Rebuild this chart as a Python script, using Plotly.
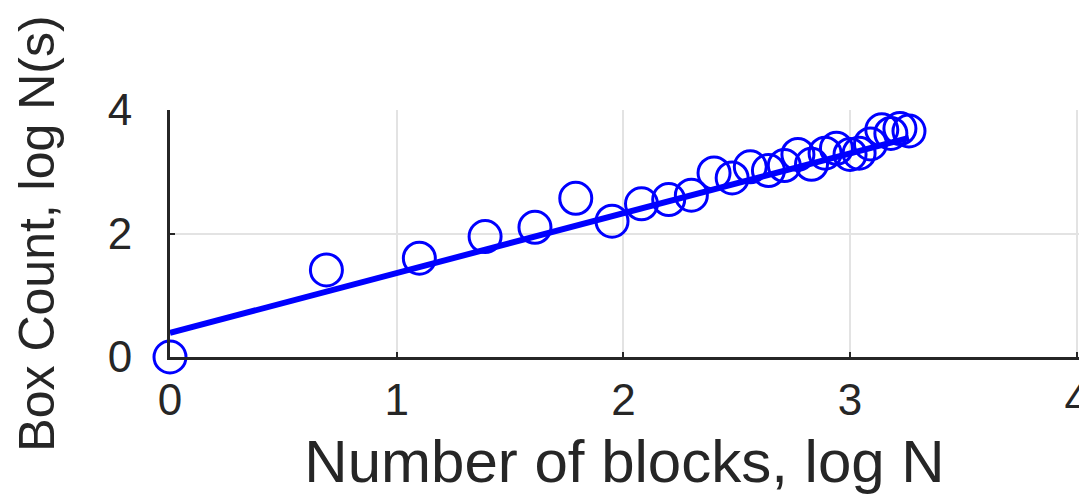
import plotly.graph_objects as go

# Data (x = log N, y = log N(s))
log_n = [0.00, 0.69, 1.10, 1.39, 1.61, 1.79, 1.95, 2.08, 2.20, 2.30,
         2.40, 2.48, 2.56, 2.64, 2.71, 2.77, 2.83, 2.89, 2.94, 3.00,
         3.04, 3.09, 3.14, 3.18, 3.22, 3.26]
log_ns = [0.00, 1.41, 1.60, 1.95, 2.10, 2.57, 2.20, 2.48, 2.55, 2.62,
          2.98, 2.90, 3.08, 3.02, 3.10, 3.28, 3.12, 3.30, 3.38, 3.28,
          3.30, 3.45, 3.68, 3.62, 3.70, 3.66]

fit_x = [0.00, 3.26]
fit_y = [0.39, 3.55]

x_ticks = [0, 1, 2, 3, 4]
y_ticks = [0, 2, 4]

BLUE = "#0000ff"
DARK = "#262626"
FONT = "Liberation Sans, Arial, Helvetica, sans-serif"

fig = go.Figure()
fig.add_trace(go.Scatter(
    x=log_n, y=log_ns, mode="markers",
    marker=dict(symbol="circle-open", size=32, color=BLUE,
                line=dict(width=3, color=BLUE)),
    cliponaxis=False, showlegend=False, hoverinfo="skip"))
fig.add_trace(go.Scatter(
    x=fit_x, y=fit_y, mode="lines",
    line=dict(color=BLUE, width=6),
    cliponaxis=False, showlegend=False, hoverinfo="skip"))

fig.update_layout(
    width=1079, height=495,
    margin=dict(l=170, r=0, t=110, b=138),
    paper_bgcolor="white", plot_bgcolor="white",
    font=dict(family=FONT, color=DARK),
)
fig.update_xaxes(
    range=[0, 4.01], tickvals=x_ticks, ticktext=[str(v) for v in x_ticks],
    showgrid=True, gridcolor="#e3e3e3", gridwidth=1.5,
    zeroline=False, showline=True, linecolor=DARK, linewidth=3,
    ticks="inside", ticklen=5, tickwidth=2, tickcolor=DARK,
    ticklabelstandoff=2, ticklabeloverflow="allow",
    tickfont=dict(size=44, color=DARK, family=FONT),
    title=dict(text="Number of blocks, log N",
               font=dict(size=60, color=DARK, family=FONT), standoff=22),
    automargin=False,
)
fig.update_yaxes(
    range=[0, 4], tickvals=y_ticks, ticktext=[str(v) for v in y_ticks],
    showgrid=True, gridcolor="#e3e3e3", gridwidth=1.5,
    zeroline=False, showline=True, linecolor=DARK, linewidth=3,
    ticks="inside", ticklen=5, tickwidth=2, tickcolor=DARK,
    ticklabelstandoff=26, ticklabeloverflow="allow",
    tickfont=dict(size=44, color=DARK, family=FONT),
    title=dict(text="Box Count, log N(s)",
               font=dict(size=50, color=DARK, family=FONT), standoff=38),
    automargin=False,
)

fig.write_html("out.html")
